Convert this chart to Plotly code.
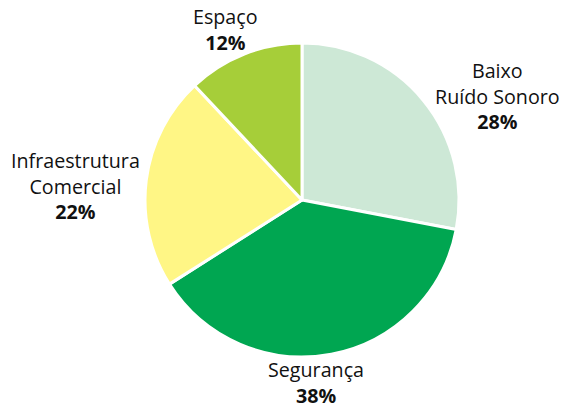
import plotly.graph_objects as go

categories = ["Baixo<br>Ruído Sonoro", "Segurança", "Infraestrutura<br>Comercial", "Espaço"]
values = [28, 38, 22, 12]
colors = ["#cde8d6", "#00a651", "#fff685", "#a6ce39"]
label_pos = [(497, 96), (316, 382), (75, 186), (225, 30)]  # pixel centers of label blocks

W, H = 574, 410
cx, cy, r = 302, 200, 157

fig = go.Figure(go.Pie(
    labels=[c.replace("<br>", " ") for c in categories],
    values=values,
    sort=False,
    direction="clockwise",
    rotation=0,
    marker=dict(colors=colors, line=dict(color="white", width=3)),
    textinfo="none",
    hoverinfo="label+percent",
    showlegend=False,
    domain=dict(x=[(cx - r) / W, (cx + r) / W], y=[(H - cy - r) / H, (H - cy + r) / H]),
))

for cat, v, (px, py) in zip(categories, values, label_pos):
    fig.add_annotation(
        x=px / W, y=1 - py / H, xref="paper", yref="paper",
        text=f"{cat}<br><b>{v}%</b>", showarrow=False,
        xanchor="center", yanchor="middle", align="center",
        font=dict(family="Open Sans", size=19.7, color="#111111"),
    )

fig.update_layout(
    width=W, height=H,
    margin=dict(l=0, r=0, t=0, b=0),
    paper_bgcolor="white", plot_bgcolor="white",
)
fig.write_html("out.html")
